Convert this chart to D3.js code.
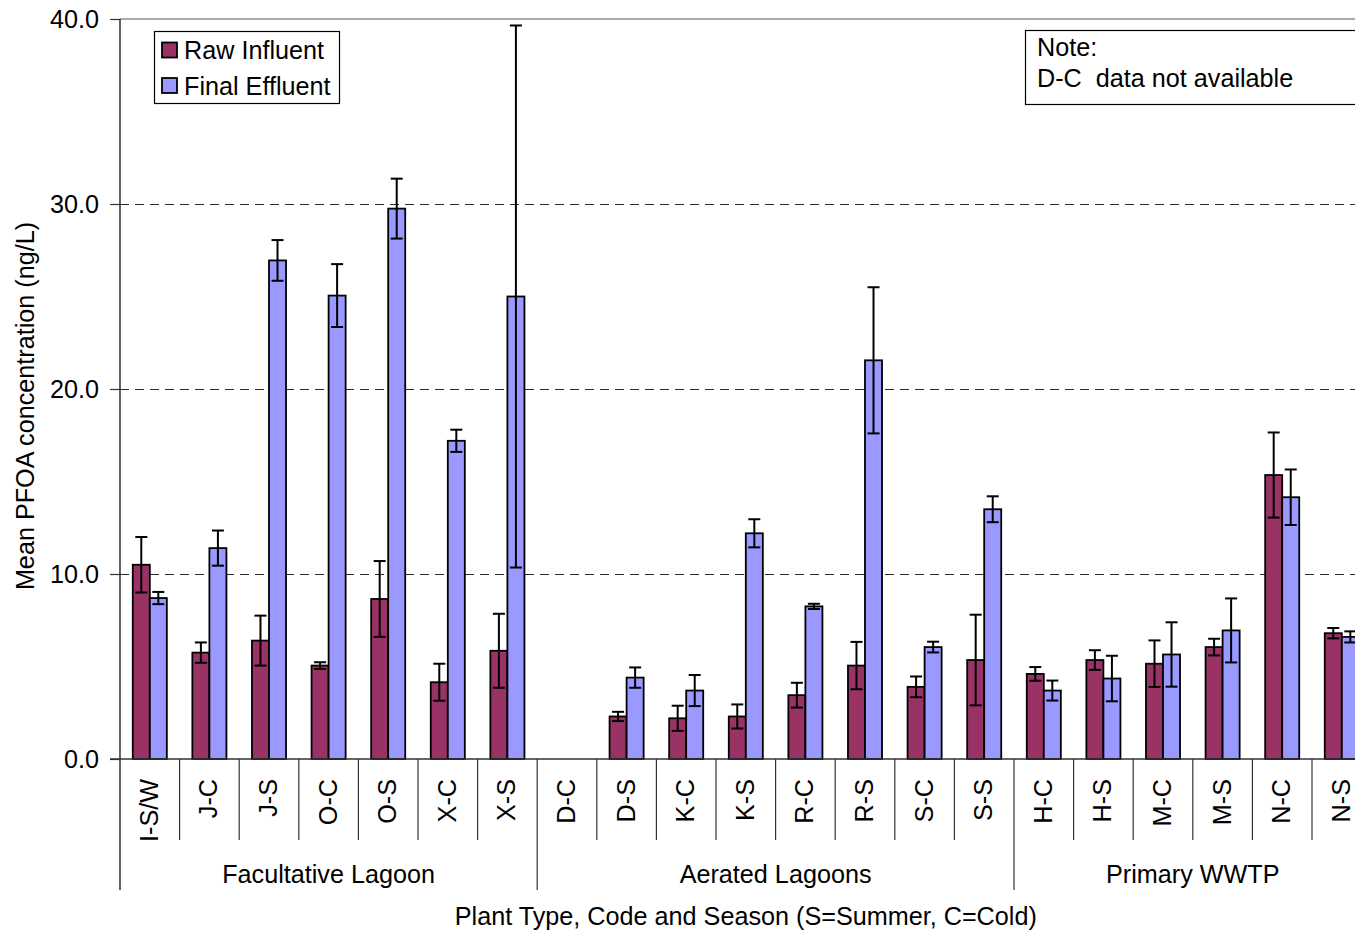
<!DOCTYPE html>
<html>
<head>
<meta charset="utf-8">
<script src="https://cdn.jsdelivr.net/npm/d3@7"></script>
<style>
  html, body { margin: 0; padding: 0; background: #fff; }
  svg { display: block; font-family: "Liberation Sans", Arial, sans-serif; }
  svg text { white-space: pre; }
</style>
</head>
<body>
<svg id="chart" width="1355" height="932"></svg>
<script>
// Mean PFOA concentrations by plant code and season
const categories = ["I-S/W","J-C","J-S","O-C","O-S","X-C","X-S","D-C","D-S","K-C","K-S",
                    "R-C","R-S","S-C","S-S","H-C","H-S","M-C","M-S","N-C","N-S"];
const plantGroups = [
  { name: "Facultative Lagoon", first: "I-S/W", last: "X-S" },
  { name: "Aerated Lagoons",    first: "D-C",   last: "S-S" },
  { name: "Primary WWTP",       first: "H-C",   last: "N-S" }
];
const seriesNames = ["Raw Influent", "Final Effluent"];
const rawInfluent   = [10.5, 5.75, 6.4, 5.05, 8.65, 4.15, 5.85, null, 2.3, 2.2, 2.3,
                       3.45, 5.05, 3.9, 5.35, 4.6, 5.35, 5.15, 6.05, 15.35, 6.8];
const rawError      = [1.5, 0.55, 1.35, 0.18, 2.05, 1.0, 2.0, null, 0.25, 0.68, 0.65,
                       0.67, 1.28, 0.56, 2.45, 0.37, 0.53, 1.26, 0.45, 2.3, 0.28];
const finalEffluent = [8.7, 11.4, 26.95, 25.05, 29.75, 17.2, 25.0, null, 4.4, 3.7, 12.2,
                       8.25, 21.55, 6.05, 13.5, 3.7, 4.35, 5.65, 6.95, 14.15, 6.6];
const finalError    = [0.33, 0.95, 1.1, 1.7, 1.62, 0.6, 14.65, null, 0.55, 0.84, 0.76,
                       0.14, 3.95, 0.29, 0.7, 0.54, 1.23, 1.74, 1.73, 1.5, 0.3];
const yTicks = [0, 10, 20, 30, 40];
const noteLines = ["Note:", "D-C  data not available"];

const colors = ["#993366", "#9999FF"];
const fontSize = 25.2;

const svg = d3.select("#chart");
const plotLeft = 120, plotTop = 19, plotBottom = 759;
const catWidth = 59.6;
const plotRight = plotLeft + catWidth * categories.length;

const x = d3.scaleBand().domain(categories).range([plotLeft, plotRight]).paddingInner(0).paddingOuter(0);
const y = d3.scaleLinear().domain([0, 40]).range([plotBottom, plotTop]);

const barW = x.bandwidth() / 3.5;
const xs = d3.scaleBand().domain(seriesNames).range([0, 2 * barW]);

// dashed gridlines
svg.append("g")
  .attr("shape-rendering", "crispEdges")
  .selectAll("line")
  .data(yTicks.filter(t => t > 0 && t < 40))
  .join("line")
  .attr("x1", plotLeft).attr("x2", plotRight)
  .attr("y1", d => y(d) + 0.5).attr("y2", d => y(d) + 0.5)
  .attr("stroke", "#2a2a2a").attr("stroke-width", 1)
  .attr("stroke-dasharray", "9,6");

// top frame of the plot area
svg.append("line")
  .attr("x1", plotLeft).attr("x2", plotRight).attr("y1", y(40)).attr("y2", y(40))
  .attr("stroke", "#8c8c8c").attr("stroke-width", 1.6);

// bars
const rows = categories.map((c, i) => ({
  cat: c,
  vals: [
    { s: seriesNames[0], v: rawInfluent[i], e: rawError[i] },
    { s: seriesNames[1], v: finalEffluent[i], e: finalError[i] }
  ].filter(d => d.v != null)
}));

const catG = svg.append("g").selectAll("g").data(rows).join("g")
  .attr("transform", d => `translate(${x(d.cat) + (x.bandwidth() - 2 * barW) / 2},0)`);

catG.selectAll("rect").data(d => d.vals).join("rect")
  .attr("x", d => xs(d.s))
  .attr("width", xs.bandwidth())
  .attr("y", d => y(d.v))
  .attr("height", d => y(0) - y(d.v))
  .attr("fill", d => colors[seriesNames.indexOf(d.s)])
  .attr("stroke", "#000").attr("stroke-width", 1.8);

// error bars
const capHalf = 6;
const cx = d => xs(d.s) + xs.bandwidth() / 2;
const err = catG.selectAll("g.err").data(d => d.vals).join("g").attr("class", "err")
  .attr("stroke", "#000").attr("stroke-width", 2);
err.append("line")
  .attr("x1", cx).attr("x2", cx)
  .attr("y1", d => y(d.v + d.e)).attr("y2", d => y(Math.max(0, d.v - d.e)));
err.append("line")
  .attr("x1", d => cx(d) - capHalf).attr("x2", d => cx(d) + capHalf)
  .attr("y1", d => y(d.v + d.e)).attr("y2", d => y(d.v + d.e));
err.append("line")
  .attr("x1", d => cx(d) - capHalf).attr("x2", d => cx(d) + capHalf)
  .attr("y1", d => y(d.v - d.e)).attr("y2", d => y(d.v - d.e));

// y axis
const yAxis = svg.append("g").attr("transform", `translate(${plotLeft},0)`)
  .call(d3.axisLeft(y).tickValues(yTicks).tickFormat(d3.format(".1f")).tickSize(10).tickPadding(11));
yAxis.select(".domain").remove();
yAxis.selectAll(".tick line").attr("stroke", "#333").attr("stroke-width", 1.2);
yAxis.selectAll(".tick text").attr("font-size", fontSize).attr("fill", "#000")
  .attr("font-family", "'Liberation Sans', Arial, sans-serif");

// axis lines
svg.append("line").attr("x1", plotLeft).attr("x2", plotLeft).attr("y1", plotTop).attr("y2", 890)
  .attr("stroke", "#222").attr("stroke-width", 1.4);
svg.append("line").attr("x1", plotLeft - 10).attr("x2", plotRight).attr("y1", plotBottom).attr("y2", plotBottom)
  .attr("stroke", "#333").attr("stroke-width", 1.4);

// category separators (longer ones at plant-type boundaries)
const groupStarts = new Set(plantGroups.map(g => g.first));
svg.append("g").selectAll("line")
  .data(categories.slice(1).concat([null]))
  .join("line")
  .attr("x1", (d, i) => plotLeft + (i + 1) * x.bandwidth())
  .attr("x2", (d, i) => plotLeft + (i + 1) * x.bandwidth())
  .attr("y1", plotBottom)
  .attr("y2", d => (d && groupStarts.has(d)) ? 890 : 840)
  .attr("stroke", "#333").attr("stroke-width", 1.2);

// category labels
svg.append("g").selectAll("text").data(categories).join("text")
  .attr("transform", d => `translate(${x(d) + x.bandwidth() / 2 + 8},779) rotate(-90)`)
  .attr("text-anchor", "end")
  .attr("font-size", fontSize)
  .text(d => d);

// plant type labels
svg.append("g").selectAll("text").data(plantGroups).join("text")
  .attr("x", g => (x(g.first) + x(g.last) + x.bandwidth()) / 2)
  .attr("y", 883)
  .attr("text-anchor", "middle")
  .attr("font-size", fontSize)
  .text(g => g.name);

// axis titles
svg.append("text")
  .attr("x", (plotLeft + plotRight) / 2).attr("y", 925)
  .attr("text-anchor", "middle").attr("font-size", fontSize)
  .text("Plant Type, Code and Season (S=Summer, C=Cold)");
svg.append("text")
  .attr("transform", `translate(34,406) rotate(-90)`)
  .attr("text-anchor", "middle").attr("font-size", fontSize)
  .text("Mean PFOA concentration (ng/L)");

// legend
const legend = svg.append("g");
legend.append("rect").attr("x", 154.5).attr("y", 31.5).attr("width", 185).attr("height", 72)
  .attr("fill", "#fff").attr("stroke", "#000").attr("stroke-width", 1.2);
const li = legend.selectAll("g.item").data(seriesNames).join("g").attr("class", "item")
  .attr("transform", (d, i) => `translate(162,${42.5 + i * 35.5})`);
li.append("rect").attr("width", 15).attr("height", 15)
  .attr("fill", (d, i) => colors[i]).attr("stroke", "#000").attr("stroke-width", 1.8);
li.append("text").attr("x", 22).attr("y", 16.5).attr("font-size", fontSize).text(d => d);

// note box
const note = svg.append("g");
note.append("rect").attr("x", 1025.5).attr("y", 30.5).attr("width", 400).attr("height", 74)
  .attr("fill", "#fff").attr("stroke", "#000").attr("stroke-width", 1.2);
note.selectAll("text").data(noteLines).join("text")
  .attr("x", 1037).attr("y", (d, i) => 56 + i * 30.5)
  .attr("font-size", fontSize).text(d => d);
</script>
</body>
</html>
